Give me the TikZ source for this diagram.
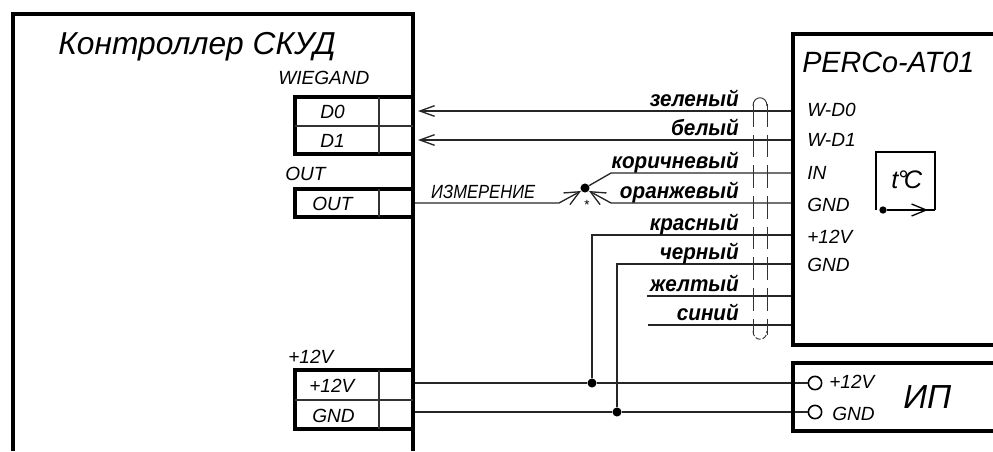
\documentclass[tikz,border=0pt]{standalone}
\usepackage{fontspec}
\setmainfont{Liberation Sans}
\usetikzlibrary{arrows.meta}
\tikzset{
  frame/.style={line width=3.5pt,line join=miter},
  block/.style={line width=2.3pt},
  divider/.style={line width=.8pt,color=black!80},
  wire/.style={line width=1pt,color=black!85},
  barb/.style={-{Straight Barb[length=11pt,width=8pt,line width=1pt]}},
  measbarb/.style={-{Straight Barb[length=11pt,width=10pt,line width=1pt]}},
  shield/.style={line width=.7pt,color=black!80},
  lbl/.style={inner sep=0,anchor=base west,font=\fontsize{14.3}{14.3}\selectfont\itshape},
  wirelbl/.style={inner sep=0,anchor=base east,xscale=.94,transform shape,font=\fontsize{16.5}{16.5}\selectfont\bfseries\itshape},
  title/.style={inner sep=0,anchor=base west,font=\fontsize{23.8}{23.8}\selectfont\itshape},
  dot/.style={circle,fill=black,inner sep=0,minimum size=6.8pt},
  ring/.style={circle,draw=black,line width=1.2pt,fill=white,inner sep=0,minimum size=10pt}
}
\begin{document}
\begin{tikzpicture}[x=.75pt,y=-.75pt]
    \useasboundingbox (0,0) rectangle (993,451);
    \coordinate (d0end) at (413,111);
    \coordinate (d1end) at (413,140);
    \coordinate (outend) at (413,203);
    \coordinate (plusend) at (413,383);
    \coordinate (gndend) at (413,412);
    \coordinate (wd0) at (793,111);
    \coordinate (wd1) at (793,140);
    \coordinate (in) at (793,173);
    \coordinate (gnda) at (793,203);
    \coordinate (plusb) at (793,235);
    \coordinate (gndb) at (793,264);
    \coordinate (yellow) at (793,296);
    \coordinate (blue) at (793,325);
    \coordinate (yellowfree) at (647,296);
    \coordinate (bluefree) at (648,325);
    \coordinate (outbend) at (559,203);
    \coordinate (inbend) at (611,173);
    \coordinate (gndbend) at (611,203);
    \coordinate (plusbend) at (592,235);
    \coordinate (gndcbend) at (617,264);
    \coordinate (d0tip) at (418,111);
    \coordinate (d1tip) at (418,140);
    \coordinate (outtip) at (581,191);
    \coordinate (gndtip) at (589,191);

    % wires first, so that the frames lie on top
    \node[dot] (meas) at (585,188) {};
    \node[dot] (jplus) at (592,383) {};
    \node[dot] (jgnd) at (617,412) {};
    \node[ring] (ipplus) at (815,383) {};
    \node[ring] (ipgnd) at (815,412) {};
    \draw[wire,barb] (wd0) -- (d0tip);
    \draw[wire,barb] (wd1) -- (d1tip);
    \draw[wire,measbarb] (outend) -- (outbend) -- (outtip);
    \draw[wire,measbarb] (gnda) -- (gndbend) -- (gndtip);
    \draw[wire] (in) -- (inbend) -- (meas);
    \draw[wire] (plusb) -- (plusbend) -- (jplus);
    \draw[wire] (gndb) -- (gndcbend) -- (jgnd);
    \draw[wire] (yellow) -- (yellowfree);
    \draw[wire] (blue) -- (bluefree);
    \draw[wire] (plusend) -- (jplus) -- (ipplus);
    \draw[wire] (gndend) -- (jgnd) -- (ipgnd);

    % cable screen
    \draw[shield,dash pattern=on 17pt off 6pt] (753,104) -- (753,335);
    \draw[shield,dash pattern=on 17pt off 6pt] (767,104) -- (767,335);
    \draw[shield] (753,106) .. controls (753,95) and (767,95) .. (767,106);
    \draw[shield,dash pattern=on 4pt off 1.5pt] (753,331) .. controls (753,342) and (767,342) .. (767,331);

    % controller
    \draw[frame] (13,451) -- (13,14) -- (413,14) -- (413,451);
    \draw[block] (413,97) -- (295,97) -- (295,154) -- (413,154);
    \draw[divider] (295,126) -- (413,126);
    \draw[divider] (379,97) -- (379,154);
    \draw[block] (413,189) -- (295,189) -- (295,217) -- (413,217);
    \draw[divider] (379,189) -- (379,217);
    \draw[block] (413,370) -- (295,370) -- (295,429) -- (413,429);
    \draw[divider] (295,400) -- (413,400);
    \draw[divider] (379,370) -- (379,429);

    % sensor and supply
    \draw[frame] (993,34) -- (793,34) -- (793,345) -- (993,345);
    \draw[frame] (993,363) -- (793,363) -- (793,431) -- (993,431);
    \draw[line width=1.2pt] (876,210) -- (876,152) -- (935,152) -- (935,210);
    \node[dot,minimum size=5.5pt] (tstart) at (883,210) {};
    \coordinate (tend) at (935,210);
    \coordinate (ttip) at (928,210);
    \draw[line width=1.2pt] (tend) -- (tstart);
    \draw[line width=1.2pt,-{Straight Barb[length=11pt,width=9pt,line width=1pt]}] (tstart) -- (ttip);

    \node[title] (ctrl) at (58,54) {Контроллер СКУД};
    \node[title,font=\fontsize{22}{22}\selectfont\itshape,xscale=.98,transform shape] (perco) at (802,72) {PERCo-AT01};
    \node[title,font=\fontsize{25}{25}\selectfont\itshape] (ip) at (903,408) {ИП};
    \node[lbl] (wiegand) at (278,84) {WIEGAND};
    \node[lbl] (dzero) at (320,118) {D0};
    \node[lbl] (done) at (320,147) {D1};
    \node[lbl] (outa) at (285,180) {OUT};
    \node[lbl] (outb) at (312,210) {OUT};
    \node[lbl] (plusa) at (288,363) {+12V};
    \node[lbl] (plusc) at (309,392) {+12V};
    \node[lbl] (gndc) at (312,422) {GND};
    \node[lbl,xscale=.87,transform shape] (meastext) at (431,198) {ИЗМЕРЕНИЕ};
    \node[inner sep=0] (star) at (587,205) {\normalsize *};
    \node[lbl] (twd0) at (807,116) {W-D0};
    \node[lbl] (twd1) at (807,146) {W-D1};
    \node[lbl] (tin) at (807,179) {IN};
    \node[lbl] (tgnd) at (807,211) {GND};
    \node[lbl] (tplus) at (807,243) {+12V};
    \node[lbl] (tgndb) at (807,271) {GND};
    \node[lbl] (ipplustext) at (829,388) {+12V};
    \node[lbl] (ipgndtext) at (832,420) {GND};
    \node[title,font=\fontsize{19}{19}\selectfont\itshape] (temp) at (891,188) {t\kern-.5pt °\kern-3pt C};
    \node[wirelbl] (green) at (739,106) {зеленый};
    \node[wirelbl] (white) at (739,135) {белый};
    \node[wirelbl] (brown) at (739,168) {коричневый};
    \node[wirelbl] (orange) at (739,198) {оранжевый};
    \node[wirelbl] (red) at (739,230) {красный};
    \node[wirelbl] (black) at (739,259) {черный};
    \node[wirelbl] (yel) at (739,291) {желтый};
    \node[wirelbl] (blu) at (739,320) {синий};
  \end{tikzpicture}
\end{document}
